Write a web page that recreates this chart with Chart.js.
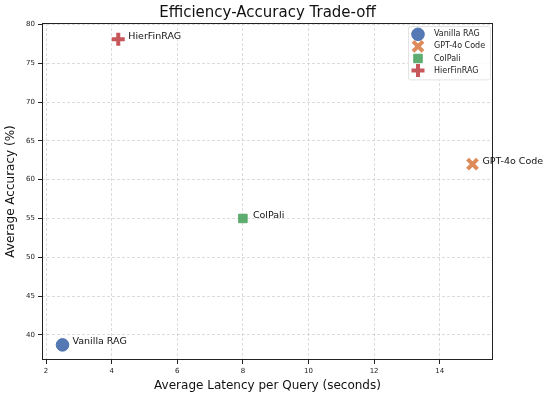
<!DOCTYPE html>
<html>
<head>
<meta charset="utf-8">
<script src="https://cdn.jsdelivr.net/npm/chart.js@4.4.1/dist/chart.umd.min.js"></script>
<style>
  html, body { margin: 0; padding: 0; background: #fff; }
</style>
</head>
<body>
<canvas id="tradeoffChart" width="550" height="397"></canvas>
<script>
// data
var methods  = ['Vanilla RAG', 'GPT-4o Code', 'ColPali', 'HierFinRAG'];
var latency  = [2.5, 15, 8, 4.2];
var accuracy = [38.7, 62, 55, 78.1];
var xTicks = [2, 4, 6, 8, 10, 12, 14];
var yTicks = [40, 45, 50, 55, 60, 65, 70, 75, 80];

var colors = ['rgba(76,114,176,0.95)', 'rgba(221,132,82,0.95)', 'rgba(85,168,104,0.95)', 'rgba(196,78,82,0.95)'];
var styles = ['circle', 'crossRot', 'rect', 'cross'];
var radii  = [6.3, 7, 6, 6.5];
var widths = [1, 4, 1, 4];

var FONT = '"DejaVu Sans", sans-serif';

// matplotlib-like frame around the plot area
var frameBox = {
  id: 'frameBox',
  beforeDatasetsDraw: function(chart) {
    var a = chart.chartArea, ctx = chart.ctx;
    ctx.save();
    ctx.strokeStyle = '#222';
    ctx.lineWidth = 1;
    ctx.setLineDash([]);
    ctx.strokeRect(a.left + 0.5, a.top + 0.5, a.right - a.left - 1, a.bottom - a.top - 1);
    ctx.restore();
  }
};

// text next to each point
var pointNames = {
  id: 'pointNames',
  afterDatasetsDraw: function(chart) {
    var ctx = chart.ctx;
    ctx.save();
    ctx.font = '9.5px ' + FONT;
    ctx.fillStyle = '#111';
    ctx.textBaseline = 'middle';
    ctx.textAlign = 'left';
    chart.data.datasets.forEach(function(ds, i) {
      var pt = chart.getDatasetMeta(i).data[0];
      ctx.fillText(ds.label, pt.x + 10, pt.y - 3);
    });
    ctx.restore();
  }
};

// legend sitting inside the top-right corner
var insideLegend = {
  id: 'insideLegend',
  afterDraw: function(chart) {
    var ctx = chart.ctx, a = chart.chartArea;
    var n = chart.data.datasets.length;
    var rowH = 12.1, boxW = 82;
    var x0 = a.right - boxW - 3, y0 = a.top + 3;
    var boxH = rowH * n + 5;
    ctx.save();
    ctx.fillStyle = 'rgba(255,255,255,0.8)';
    ctx.strokeStyle = '#e3e3e3';
    ctx.lineWidth = 1;
    ctx.beginPath();
    ctx.roundRect(x0 + 0.5, y0 + 0.5, boxW, boxH, 2);
    ctx.fill();
    ctx.stroke();
    chart.data.datasets.forEach(function(ds, i) {
      var cy = y0 + 8.3 + i * rowH;
      ctx.fillStyle = ds.backgroundColor;
      ctx.strokeStyle = ds.borderColor;
      ctx.lineWidth = ds.borderWidth;
      Chart.helpers.drawPoint(ctx, {
        pointStyle: ds.pointStyle, radius: ds.pointRadius,
        borderWidth: ds.borderWidth, rotation: 0
      }, x0 + 10, cy);
      ctx.fillStyle = '#222';
      ctx.font = '8px ' + FONT;
      ctx.textBaseline = 'middle';
      ctx.fillText(ds.label, x0 + 26, cy);
    });
    ctx.restore();
  }
};

var datasets = methods.map(function(name, i) {
  return {
    label: name,
    data: [{ x: latency[i], y: accuracy[i] }],
    pointStyle: styles[i],
    pointRadius: radii[i],
    pointHoverRadius: radii[i],
    backgroundColor: colors[i],
    borderColor: colors[i],
    borderWidth: widths[i]
  };
});

var gridOpts = {
  color: 'rgba(200,200,200,0.8)',
  lineWidth: 0.8,
  tickLength: 4,
  tickColor: '#222',
  tickWidth: 1,
  tickBorderDash: []
};
var borderOpts = { display: false, dash: [3, 2] };

var ctx = document.getElementById('tradeoffChart').getContext('2d');
new Chart(ctx, {
  type: 'scatter',
  data: { datasets: datasets },
  plugins: [frameBox, pointNames, insideLegend],
  options: {
    responsive: false,
    animation: false,
    layout: { padding: { left: 0, right: 57, top: 0, bottom: 0 } },
    plugins: {
      legend: { display: false },
      tooltip: { enabled: false },
      title: {
        display: true,
        text: 'Efficiency-Accuracy Trade-off',
        fullSize: false,
        color: '#111',
        font: { family: FONT, size: 15, weight: 'normal' },
        padding: { top: 4, bottom: 1 }
      }
    },
    scales: {
      x: {
        type: 'linear',
        min: 1.875,
        max: 15.625,
        afterBuildTicks: function(scale) {
          scale.ticks = xTicks.map(function(v) { return { value: v }; });
        },
        afterFit: function(scale) { scale.height = 37; },
        grid: gridOpts,
        border: borderOpts,
        ticks: { color: '#222', font: { family: FONT, size: 7 }, padding: 3, maxRotation: 0 },
        title: {
          display: true,
          text: 'Average Latency per Query (seconds)',
          color: '#111',
          font: { family: FONT, size: 12 },
          padding: { top: 0, bottom: 4 }
        }
      },
      y: {
        type: 'linear',
        min: 36.75,
        max: 80.2,
        afterBuildTicks: function(scale) {
          scale.ticks = yTicks.map(function(v) { return { value: v }; });
        },
        afterFit: function(scale) { scale.width = 42; },
        grid: gridOpts,
        border: borderOpts,
        ticks: { color: '#222', font: { family: FONT, size: 7 }, padding: 3 },
        title: {
          display: true,
          text: 'Average Accuracy (%)',
          color: '#111',
          font: { family: FONT, size: 12 },
          padding: { top: 4, bottom: 0 }
        }
      }
    }
  }
});
</script>
</body>
</html>
